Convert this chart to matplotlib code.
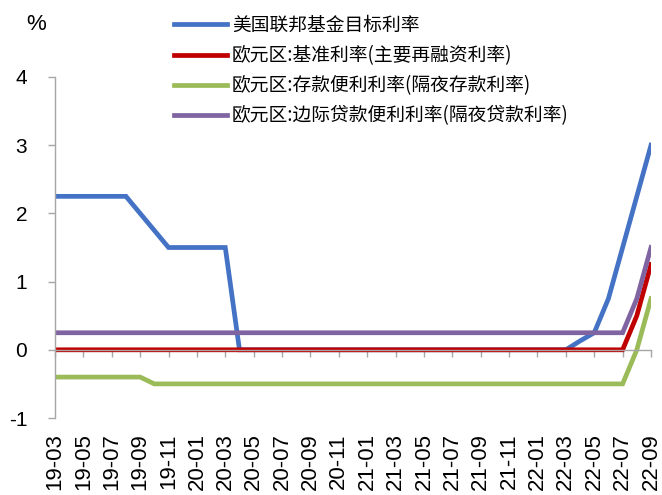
import matplotlib
matplotlib.use("Agg")
import matplotlib.pyplot as plt
import numpy as np

plt.rcParams['font.family'] = ['Liberation Sans', 'Noto Sans CJK SC', 'DejaVu Sans']

# Monthly observations, 2019-03 .. 2022-09
months = [f"{y % 100:02d}-{m:02d}" for y in (2019, 2020, 2021, 2022) for m in range(1, 13)]
months = months[months.index("19-03"):months.index("22-09") + 1]

fed_target = [2.25, 2.25, 2.25, 2.25, 2.25, 2.25, 2.0, 1.75, 1.5, 1.5, 1.5, 1.5, 1.5,
              0, 0, 0, 0, 0, 0, 0, 0, 0, 0, 0, 0, 0, 0, 0, 0, 0, 0, 0, 0, 0, 0, 0,
              0, 0.13, 0.25, 0.75, 1.5, 2.25, 3.0]
ecb_mro = [0] * 40 + [0, 0.5, 1.25]
ecb_deposit = [-0.4] * 7 + [-0.5] * 33 + [-0.5, 0.0, 0.75]
ecb_marginal = [0.25] * 40 + [0.25, 0.75, 1.5]

series_names = [
    "美国联邦基金目标利率",
    "欧元区:基准利率(主要再融资利率)",
    "欧元区:存款便利利率(隔夜存款利率)",
    "欧元区:边际贷款便利利率(隔夜贷款利率)",
]
series_values = [fed_target, ecb_mro, ecb_deposit, ecb_marginal]
colors = ["#4472C4", "#C00000", "#9BBB59", "#8064A2"]

fig = plt.figure(figsize=(6.62, 4.95), dpi=100)
ax = fig.add_axes([55 / 662, 1 - 418 / 495, (651 - 55) / 662, (418 - 77) / 495])

x = np.arange(len(months))
handles = []
for name, vals, c in zip(series_names, series_values, colors):
    h, = ax.plot(x, vals, color=c, lw=3.4, label=name, solid_joinstyle='miter')
    handles.append(h)

ax.set_xlim(0, len(months) - 1)
ax.set_ylim(-1, 4)
ax.set_yticks([-1, 0, 1, 2, 3, 4])
ax.set_yticklabels(["-1", "0", "1", "2", "3", "4"])

axis_grey = "#A6A6A6"
for s in ("top", "right"):
    ax.spines[s].set_visible(False)
ax.spines["left"].set_color(axis_grey)
ax.spines["left"].set_linewidth(1.0)
ax.spines["bottom"].set_position(("data", 0))
ax.spines["bottom"].set_color(axis_grey)
ax.spines["bottom"].set_linewidth(1.0)

tick_pos = x[::2]
ax.set_xticks(tick_pos)
ax.tick_params(axis="x", direction="out", length=5, width=1.0, color=axis_grey,
               labelbottom=False)
ax.tick_params(axis="y", direction="out", length=5, width=1.0, color=axis_grey,
               labelsize=15, pad=15)

# Month labels sit along the bottom edge of the plot
sec = ax.secondary_xaxis("bottom")
sec.set_xticks(tick_pos)
sec.set_xticklabels([months[i] for i in tick_pos], rotation=90, fontsize=16)
sec.tick_params(axis="x", length=0, pad=11)
sec.spines["bottom"].set_visible(False)

fig.text(36 / 662, 1 - 25 / 495, "%", fontsize=16, ha="center", va="center")

fig.legend(handles=handles, labels=series_names, loc="upper left",
           bbox_to_anchor=(174 / 662, 1 - 15 / 495), frameon=False,
           prop={"family": ["Noto Sans CJK SC", "DejaVu Sans"], "size": 13.5},
           handlelength=2.85, handletextpad=0.25, labelspacing=0.49,
           borderpad=0, borderaxespad=0)

fig.savefig("out.png", dpi=100)
